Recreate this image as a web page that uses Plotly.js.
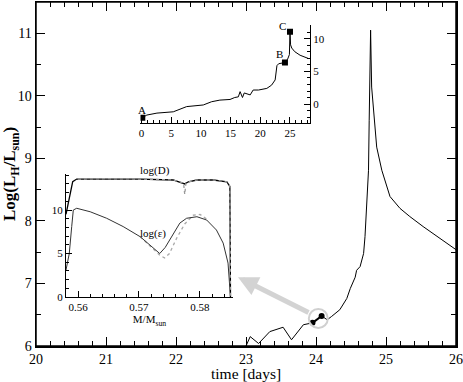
<!DOCTYPE html>
<html>
<head>
<meta charset="utf-8">
<script src="https://cdn.plot.ly/plotly-3.0.1.min.js"></script>
<style>
body { margin: 0; background: #fff; }
#chart { width: 463px; height: 382px; }
</style>
</head>
<body>
<div id="chart"></div>
<script>
// main light curve
const mainTime = [23.0, 23.06, 23.18, 23.34, 23.53, 23.65, 23.82, 23.95, 24.08, 24.16, 24.22, 24.34, 24.44, 24.49, 24.56, 24.58, 24.63, 24.68, 24.7, 24.72, 24.75, 24.76, 24.776, 24.78, 24.795, 24.829, 24.867, 24.94, 25.057, 25.2, 25.34, 25.53, 25.77, 26.0];
const mainLum = [6.0, 6.15, 6.04, 6.23, 6.3, 6.1, 6.34, 6.37, 6.48, 6.42, 6.47, 6.58, 6.76, 6.92, 7.1, 7.21, 7.27, 7.48, 7.75, 8.12, 8.81, 9.61, 10.68, 11.05, 10.14, 9.61, 9.18, 8.81, 8.39, 8.2, 8.07, 7.91, 7.72, 7.54];
const circledTime = [23.95, 24.08];
const circledLum = [6.37, 6.48];

// upper inset
const upperTime = [0.13, 0.9, 2.6, 5.35, 7.6, 10.4, 11.8, 13.2, 14.9, 15.7, 16.3, 16.6, 17.0, 17.3, 18.3, 18.8, 19.7, 21.1, 21.9, 22.5, 22.8, 23.1, 23.7, 24.15, 24.6, 24.9, 25.0, 25.1, 25.3, 25.8, 26.7, 28.1];
const upperLum = [-2.1, -1.7, -1.4, -1.2, -0.4, -0.15, 0.35, 0.6, 0.7, 1.0, 1.1, 1.9, 1.0, 1.7, 1.4, 2.15, 2.15, 2.4, 2.9, 3.7, 5.9, 6.2, 6.3, 6.4, 6.9, 7.6, 11.1, 9.1, 8.6, 8.05, 7.5, 7.0];
const markNames = ["A", "B", "C"];
const markTime = [0.13, 24.15, 25.0];
const markLum = [-2.1, 6.4, 11.1];

// lower inset
const massEps = [0.55803, 0.55857, 0.55897, 0.55923, 0.55979, 0.5620, 0.5647, 0.5674, 0.5702, 0.5723, 0.5734, 0.5743, 0.5756, 0.5767, 0.5778, 0.5795, 0.5811, 0.5827, 0.5838, 0.5846, 0.585];
const logEps = [3.1, 5.0, 8.1, 10.0, 10.2, 9.8, 9.05, 8.1, 6.93, 5.7, 5.0, 5.7, 7.3, 8.5, 9.05, 9.23, 8.85, 7.7, 6.2, 3.9, 0];
const massEpsGray = [0.5702, 0.5723, 0.5735, 0.5742, 0.5750, 0.5762, 0.5775, 0.5789, 0.5800, 0.5811];
const logEpsGray = [6.93, 5.6, 4.75, 4.5, 5.0, 6.8, 8.4, 9.4, 9.5, 8.95];
const massD = [0.55803, 0.55869, 0.55913, 0.55979, 0.5647, 0.5702, 0.5756, 0.5775, 0.5781, 0.5795, 0.5822, 0.5844, 0.5849, 0.585];
const logD = [9.5, 11.9, 13.25, 13.56, 13.6, 13.56, 13.45, 13.0, 13.25, 13.45, 13.45, 13.25, 12.7, 0];
const massDGray = [0.5600, 0.5647, 0.5702, 0.5756, 0.5773, 0.5775, 0.5777, 0.5781, 0.5795, 0.5822, 0.5844, 0.5849, 0.585];
const logDGray = [13.56, 13.6, 13.56, 13.45, 13.1, 11.8, 13.1, 13.25, 13.45, 13.45, 13.25, 12.7, 0];

const serif = '"Liberation Serif", "Times New Roman", serif';

var data = [
   { x: mainTime, y: mainLum, mode: "lines", line: { color: "#000", width: 1 }, xaxis: "x", yaxis: "y" },
   { x: circledTime, y: circledLum, mode: "lines+markers", line: { color: "#000", width: 2 }, marker: { color: "#000", size: 6 }, xaxis: "x", yaxis: "y" },
   { x: upperTime, y: upperLum, mode: "lines", line: { color: "#000", width: 1 }, xaxis: "x2", yaxis: "y2" },
   { x: markTime, y: markLum, mode: "markers", marker: { color: "#000", size: 6, symbol: "square" }, xaxis: "x2", yaxis: "y2" },
   { x: massEpsGray, y: logEpsGray, mode: "lines", line: { color: "#aaa", width: 1.3, dash: "dot" }, xaxis: "x3", yaxis: "y3" },
   { x: massEps, y: logEps, mode: "lines", line: { color: "#333", width: 1 }, xaxis: "x3", yaxis: "y3" },
   { x: massD, y: logD, mode: "lines", line: { color: "#000", width: 1.3 }, xaxis: "x3", yaxis: "y3" },
   { x: massDGray, y: logDGray, mode: "lines", line: { color: "#999", width: 1.3, dash: "dot" }, xaxis: "x3", yaxis: "y3" },
];

var mainAxis = {
   showline: true, linewidth: 1.5, linecolor: "#000", mirror: "allticks",
   ticks: "inside", ticklen: 9, tickwidth: 1, tickcolor: "#000",
   showgrid: false, zeroline: false, ticklabeloverflow: "allow",
   tickfont: { size: 14 },
};

var insetAxis = {
   showline: true, linewidth: 1, linecolor: "#000",
   ticks: "inside", ticklen: 6, tickwidth: 1, tickcolor: "#000",
   showgrid: false, zeroline: false,
   tickfont: { size: 11 },
};

var layout = {
   width: 463,
   height: 382,
   margin: { l: 36, r: 7, t: 2, b: 36 },
   paper_bgcolor: "#fff",
   plot_bgcolor: "#fff",
   showlegend: false,
   font: { family: serif, color: "#000", size: 14 },
   xaxis: Object.assign({}, mainAxis, {
      domain: [0, 1], range: [20, 26], dtick: 1, tick0: 20,
      minor: { dtick: 0.2, ticks: "inside", ticklen: 5, tickcolor: "#000" },
   }),
   yaxis: Object.assign({}, mainAxis, {
      domain: [0, 1], range: [6, 11.5], dtick: 1, tick0: 6,
      minor: { dtick: 0.5, ticks: "inside", ticklen: 5, tickcolor: "#000" },
      title: { text: "<b>Log(L<sub>H</sub>/L<sub>sun</sub>)</b>", font: { size: 17 }, standoff: 5 },
   }),
   xaxis2: Object.assign({}, insetAxis, {
      domain: [0.2488, 0.6524], range: [-0.17, 28.37], anchor: "y2", dtick: 5, tick0: 0,
      minor: { dtick: 1, ticks: "inside", ticklen: 3, tickcolor: "#000" },
   }),
   yaxis2: Object.assign({}, insetAxis, {
      domain: [0.6483, 0.9331], range: [-2.92, 12.15], anchor: "x2", side: "right", dtick: 5, tick0: 0,
      minor: { dtick: 1, ticks: "inside", ticklen: 3, tickcolor: "#000" },
   }),
   xaxis3: Object.assign({}, insetAxis, {
      domain: [0.0714, 0.469], range: [0.55803, 0.58541], anchor: "y3", dtick: 0.01, tick0: 0.56,
      minor: { dtick: 0.002, ticks: "inside", ticklen: 3, tickcolor: "#000" },
      title: { text: "M/M<sub>sun</sub>", font: { size: 11 }, standoff: 2 },
   }),
   yaxis3: Object.assign({}, insetAxis, {
      domain: [0.1424, 0.5], range: [0, 14.14], anchor: "x3", dtick: 5, tick0: 0,
      minor: { dtick: 1, ticks: "inside", ticklen: 3, tickcolor: "#000" },
   }),
   shapes: [
      {
         type: "rect", xref: "paper", yref: "paper", x0: 0, x1: 1, y0: 0, y1: 1,
         line: { color: "#000", width: 1.5 }, layer: "above",
      },
      {
         type: "circle", xref: "x", yref: "y", xsizemode: "pixel", ysizemode: "pixel",
         xanchor: 24.033, yanchor: 6.44, x0: -9.5, x1: 9.5, y0: -9.5, y1: 9.5,
         line: { color: "#d0d0d0", width: 2 },
      },
   ],
   annotations: [
      {
         x: 0.5, y: -36 / 344, xref: "paper", yref: "paper", xanchor: "center", yanchor: "bottom",
         text: "time [days]", showarrow: false, yshift: -2, font: { size: 15.5 },
      },
      {
         x: 22.886, y: 7.1, xref: "x", yref: "y", ax: 72, ay: 36, text: "",
         showarrow: true, arrowhead: 2, arrowsize: 0.8, arrowwidth: 5, arrowcolor: "#d3d3d3", standoff: 0,
      },
      { x: markTime[0], y: markLum[0], xref: "x2", yref: "y2", text: markNames[0], showarrow: false, yshift: 8, font: { size: 11 } },
      { x: markTime[1], y: markLum[1], xref: "x2", yref: "y2", text: markNames[1], showarrow: false, xshift: -5, yshift: 8, font: { size: 11 } },
      { x: markTime[2], y: markLum[2], xref: "x2", yref: "y2", text: markNames[2], showarrow: false, xshift: -7, yshift: 6, font: { size: 11 } },
      { x: 0.5726, y: 13.9, xref: "x3", yref: "y3", text: "log(D)", showarrow: false, yshift: 6, font: { size: 11 } },
      { x: 0.5723, y: 7.3, xref: "x3", yref: "y3", text: "log(\u03b5)", showarrow: false, font: { size: 11 } },
   ],
};

Plotly.newPlot("chart", data, layout, { displayModeBar: false, staticPlot: true });
</script>
</body>
</html>
